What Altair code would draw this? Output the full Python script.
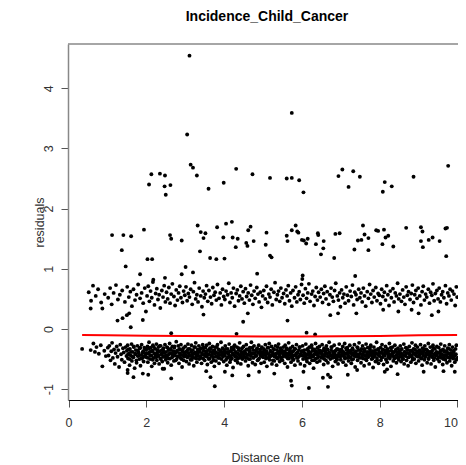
import altair as alt
import pandas as pd

# ---------------- data ----------------
# isolated high residuals (> ~0.8)
high_pts = [
    (3.11, 4.54), (3.05, 3.23), (3.14, 2.73), (3.20, 2.68), (3.30, 2.55), (2.13, 2.57),
    (2.35, 2.58), (2.48, 2.55), (2.07, 2.40), (2.47, 2.37), (2.62, 2.39), (2.50, 2.23),
    (3.60, 2.33), (3.99, 2.43), (4.31, 2.66), (4.73, 2.57), (5.18, 2.51), (5.74, 3.59),
    (5.61, 2.50), (5.74, 2.51), (5.93, 2.47), (6.04, 2.27), (6.94, 2.54), (7.04, 2.65),
    (7.32, 2.62), (7.49, 2.53), (7.20, 2.36), (8.13, 2.44), (8.31, 2.37), (8.08, 2.28),
    (8.87, 2.53), (9.76, 2.71),
    (1.12, 1.56), (1.41, 1.56), (1.61, 1.54), (1.94, 1.65), (2.61, 1.56), (2.64, 1.50),
    (2.91, 1.47), (3.32, 1.72), (3.40, 1.61), (1.37, 1.31), (3.38, 1.29), (2.03, 1.16),
    (2.15, 1.16), (1.47, 1.04), (3.01, 1.03), (3.47, 1.51), (3.52, 1.59), (3.82, 1.69),
    (4.05, 1.75), (4.20, 1.78), (3.98, 1.52), (4.22, 1.52), (4.35, 1.50), (4.30, 1.36),
    (3.64, 1.18), (3.80, 1.16), (4.01, 1.17), (4.62, 1.64), (4.68, 1.70), (4.57, 1.43),
    (4.60, 1.38), (4.76, 1.46), (5.09, 1.60), (5.07, 1.40), (5.18, 1.22), (5.22, 1.19),
    (5.61, 1.55), (5.74, 1.64), (5.84, 1.72), (5.88, 1.62), (5.91, 1.60), (5.63, 1.46),
    (6.00, 1.48), (6.05, 1.47), (6.15, 1.50), (6.11, 1.42), (6.41, 1.59), (6.42, 1.56),
    (6.36, 1.41), (6.56, 1.46), (6.55, 1.34), (6.49, 1.24), (6.86, 1.58), (6.97, 1.59),
    (6.83, 1.18), (7.57, 1.72), (7.61, 1.57), (7.71, 1.51), (7.44, 1.47), (7.53, 1.48),
    (7.35, 1.32), (7.71, 1.31), (7.91, 1.64), (7.96, 1.63), (8.11, 1.65), (8.22, 1.55),
    (8.15, 1.52), (8.07, 1.41), (8.35, 1.37), (8.68, 1.68), (9.06, 1.69), (9.10, 1.62),
    (9.06, 1.46), (9.11, 1.36), (9.26, 1.48), (9.36, 1.52), (9.54, 1.46), (9.69, 1.67),
    (9.73, 1.68), (9.71, 1.21),
    (1.84, 0.91), (2.91, 0.91), (3.20, 0.94), (2.48, 0.85), (2.18, 0.82), (4.85, 0.92),
    (6.02, 0.89), (6.01, 0.83), (7.37, 0.88),
]

# scattered points between and below the two bands
sparse_pts = [
    (0.57, 0.34), (0.87, 0.34), (1.26, 0.14), (1.39, 0.18), (1.50, 0.23), (1.56, 0.26),
    (1.91, 0.15), (1.99, 0.29), (1.60, 0.03), (2.64, -0.07), (3.47, 0.24), (4.49, 0.12),
    (4.61, 0.26), (5.63, 0.14), (4.32, -0.08), (6.12, -0.06), (6.34, -0.09),
    (6.73, 0.23), (6.93, 0.26), (7.40, 0.26), (8.09, 0.32), (8.48, 0.29), (8.82, 0.32),
    (9.00, 0.26), (9.34, 0.23), (9.51, 0.29),
    (0.35, -0.33), (0.57, -0.35), (0.64, -0.24), (0.87, -0.62), (0.72, -0.30), (0.78, -0.41),
    (0.83, -0.27), (0.92, -0.36), (0.96, -0.45), (0.68, -0.38),
    (1.52, -0.68), (1.52, -0.73), (1.67, -0.80), (1.91, -0.74), (2.05, -0.76), (2.64, -0.82),
    (2.42, -0.66), (3.76, -0.95), (5.72, -0.86), (5.74, -0.94), (6.18, -0.98), (3.65, -0.80),
    (3.54, -0.70), (4.63, -0.77), (5.29, -0.74), (6.54, -0.81), (6.67, -0.76), (4.02, -0.71),
    (4.21, -0.77), (4.90, -0.71), (6.04, -0.71), (6.67, -0.96), (7.18, -0.76), (7.42, -0.68),
    (8.13, -0.71), (8.19, -0.67), (8.46, -0.75), (9.13, -0.71), (9.64, -0.70), (9.93, -0.71),
    (6.73, -0.80),
]

# dense band of residuals around +0.55
upper_band = [
    (0.52, 0.61), (0.58, 0.47), (0.63, 0.72), (0.70, 0.55), (0.76, 0.66), (0.84, 0.44), (0.93, 0.58),
    (1.02, 0.52), (1.07, 0.68), (1.11, 0.41), (1.16, 0.60), (1.22, 0.73), (1.27, 0.49), (1.32, 0.57),
    (1.38, 0.64), (1.45, 0.45),
    (1.51, 0.70), (1.55, 0.53), (1.59, 0.62), (1.63, 0.38), (1.67, 0.66), (1.71, 0.48), (1.75, 0.57),
    (1.79, 0.74), (1.84, 0.51), (1.88, 0.60), (1.92, 0.43), (1.96, 0.68),
    (2.02, 0.55), (2.05, 0.71), (2.08, 0.46), (2.11, 0.63), (2.14, 0.52), (2.17, 0.78), (2.21, 0.40),
    (2.24, 0.59), (2.27, 0.67), (2.30, 0.49), (2.33, 0.57), (2.36, 0.35), (2.40, 0.64), (2.43, 0.53),
    (2.46, 0.72), (2.49, 0.45),
    (2.52, 0.61), (2.55, 0.50), (2.58, 0.69), (2.61, 0.43), (2.64, 0.58), (2.67, 0.75), (2.71, 0.54),
    (2.74, 0.39), (2.77, 0.65), (2.80, 0.48), (2.83, 0.60), (2.86, 0.71), (2.89, 0.52), (2.93, 0.44),
    (2.96, 0.63), (2.99, 0.56),
    (3.02, 0.70), (3.05, 0.47), (3.08, 0.59), (3.11, 0.53), (3.14, 0.66), (3.18, 0.41), (3.21, 0.62),
    (3.24, 0.77), (3.27, 0.50), (3.30, 0.57), (3.33, 0.45), (3.36, 0.68), (3.40, 0.55), (3.43, 0.37),
    (3.46, 0.63), (3.49, 0.52),
    (3.52, 0.58), (3.55, 0.72), (3.58, 0.46), (3.61, 0.64), (3.65, 0.53), (3.68, 0.42), (3.71, 0.69),
    (3.74, 0.56), (3.77, 0.61), (3.80, 0.48), (3.83, 0.74), (3.87, 0.51), (3.90, 0.60), (3.93, 0.40),
    (3.96, 0.66), (3.99, 0.54),
    (4.02, 0.49), (4.05, 0.63), (4.09, 0.57), (4.12, 0.76), (4.15, 0.44), (4.18, 0.60), (4.21, 0.52),
    (4.24, 0.68), (4.27, 0.38), (4.31, 0.59), (4.34, 0.65), (4.37, 0.47), (4.40, 0.55), (4.43, 0.71),
    (4.46, 0.50), (4.49, 0.62),
    (4.52, 0.43), (4.55, 0.67), (4.58, 0.54), (4.62, 0.60), (4.65, 0.48), (4.68, 0.73), (4.71, 0.56),
    (4.74, 0.41), (4.77, 0.63), (4.80, 0.51), (4.84, 0.69), (4.87, 0.58), (4.90, 0.45), (4.93, 0.61),
    (4.96, 0.36), (4.99, 0.55),
    (5.02, 0.64), (5.06, 0.50), (5.09, 0.71), (5.12, 0.44), (5.15, 0.58), (5.18, 0.53), (5.21, 0.66),
    (5.24, 0.40), (5.28, 0.61), (5.31, 0.77), (5.34, 0.49), (5.37, 0.57), (5.40, 0.63), (5.43, 0.46),
    (5.46, 0.68), (5.49, 0.52),
    (5.53, 0.59), (5.56, 0.42), (5.59, 0.65), (5.62, 0.55), (5.65, 0.72), (5.68, 0.47), (5.71, 0.60),
    (5.74, 0.38), (5.77, 0.64), (5.81, 0.52), (5.84, 0.70), (5.87, 0.45), (5.90, 0.57), (5.93, 0.62),
    (5.96, 0.49), (5.99, 0.74),
    (6.03, 0.56), (6.06, 0.43), (6.09, 0.67), (6.12, 0.51), (6.15, 0.60), (6.18, 0.75), (6.21, 0.46),
    (6.25, 0.58), (6.28, 0.63), (6.31, 0.39), (6.34, 0.54), (6.37, 0.69), (6.40, 0.48), (6.43, 0.61),
    (6.47, 0.53), (6.50, 0.66),
    (6.53, 0.44), (6.56, 0.59), (6.59, 0.71), (6.62, 0.50), (6.65, 0.62), (6.69, 0.41), (6.72, 0.57),
    (6.75, 0.68), (6.78, 0.53), (6.81, 0.46), (6.84, 0.64), (6.87, 0.76), (6.91, 0.55), (6.94, 0.48),
    (6.97, 0.60), (6.99, 0.37),
    (7.02, 0.65), (7.05, 0.52), (7.08, 0.58), (7.11, 0.43), (7.14, 0.70), (7.17, 0.56), (7.20, 0.47),
    (7.24, 0.63), (7.27, 0.54), (7.30, 0.73), (7.33, 0.40), (7.36, 0.61), (7.39, 0.57), (7.42, 0.49),
    (7.46, 0.66), (7.49, 0.52),
    (7.52, 0.60), (7.55, 0.45), (7.58, 0.68), (7.61, 0.55), (7.64, 0.38), (7.68, 0.62), (7.71, 0.51),
    (7.74, 0.74), (7.77, 0.58), (7.80, 0.44), (7.83, 0.64), (7.86, 0.53), (7.90, 0.69), (7.93, 0.47),
    (7.96, 0.59), (7.99, 0.56),
    (8.02, 0.42), (8.05, 0.66), (8.08, 0.54), (8.12, 0.61), (8.15, 0.48), (8.18, 0.72), (8.21, 0.57),
    (8.24, 0.39), (8.27, 0.63), (8.30, 0.52), (8.34, 0.67), (8.37, 0.45), (8.40, 0.60), (8.43, 0.55),
    (8.46, 0.76), (8.49, 0.50),
    (8.52, 0.58), (8.56, 0.46), (8.59, 0.65), (8.62, 0.53), (8.65, 0.41), (8.68, 0.70), (8.71, 0.56),
    (8.74, 0.62), (8.78, 0.49), (8.81, 0.59), (8.84, 0.73), (8.87, 0.44), (8.90, 0.57), (8.93, 0.64),
    (8.96, 0.51), (8.99, 0.68),
    (9.03, 0.55), (9.06, 0.40), (9.09, 0.62), (9.12, 0.71), (9.15, 0.48), (9.18, 0.58), (9.21, 0.53),
    (9.25, 0.66), (9.28, 0.43), (9.31, 0.61), (9.34, 0.56), (9.37, 0.75), (9.40, 0.47), (9.43, 0.59),
    (9.47, 0.64), (9.50, 0.50),
    (9.53, 0.68), (9.56, 0.45), (9.59, 0.57), (9.62, 0.62), (9.65, 0.52), (9.69, 0.72), (9.72, 0.42),
    (9.75, 0.60), (9.78, 0.55), (9.81, 0.66), (9.84, 0.48), (9.87, 0.63), (9.91, 0.58), (9.94, 0.39),
    (9.97, 0.70), (9.99, 0.53),
]

# dense band of residuals around -0.4
lower_band = [
    (1.01, -0.31), (1.03, -0.44), (1.05, -0.28), (1.08, -0.52), (1.10, -0.37), (1.12, -0.23), (1.14, -0.48),
    (1.17, -0.34), (1.19, -0.58), (1.21, -0.40), (1.24, -0.29), (1.26, -0.46), (1.28, -0.35), (1.30, -0.63),
    (1.33, -0.26), (1.35, -0.42), (1.37, -0.51), (1.40, -0.32), (1.42, -0.39), (1.44, -0.55), (1.47, -0.30),
    (1.49, -0.45),
    (1.50, -0.36), (1.52, -0.27), (1.53, -0.49), (1.55, -0.41), (1.57, -0.60), (1.58, -0.33), (1.60, -0.44),
    (1.62, -0.25), (1.63, -0.53), (1.65, -0.38), (1.67, -0.47), (1.68, -0.30), (1.70, -0.65), (1.72, -0.42),
    (1.73, -0.35), (1.75, -0.56), (1.77, -0.28), (1.78, -0.45), (1.80, -0.39), (1.82, -0.50), (1.83, -0.32),
    (1.85, -0.61), (1.87, -0.43), (1.88, -0.26), (1.90, -0.48), (1.92, -0.37), (1.93, -0.54), (1.95, -0.31),
    (1.97, -0.46), (1.99, -0.40),
    (2.00, -0.34), (2.01, -0.47), (2.03, -0.29), (2.04, -0.55), (2.06, -0.41), (2.07, -0.22), (2.08, -0.38),
    (2.10, -0.50), (2.11, -0.31), (2.13, -0.44), (2.14, -0.62), (2.16, -0.36), (2.17, -0.27), (2.18, -0.48),
    (2.20, -0.40), (2.21, -0.57), (2.23, -0.33), (2.24, -0.45), (2.26, -0.25), (2.27, -0.52), (2.28, -0.39),
    (2.30, -0.43), (2.31, -0.30), (2.33, -0.58), (2.34, -0.37), (2.36, -0.49), (2.37, -0.28), (2.38, -0.42),
    (2.40, -0.35), (2.41, -0.54), (2.43, -0.46), (2.44, -0.32), (2.46, -0.66), (2.47, -0.40), (2.48, -0.26),
    (2.50, -0.51),
    (2.51, -0.38), (2.53, -0.30), (2.54, -0.47), (2.55, -0.56), (2.57, -0.35), (2.58, -0.42), (2.60, -0.24),
    (2.61, -0.49), (2.62, -0.33), (2.64, -0.60), (2.65, -0.41), (2.67, -0.29), (2.68, -0.45), (2.70, -0.37),
    (2.71, -0.53), (2.72, -0.31), (2.74, -0.44), (2.75, -0.39), (2.77, -0.21), (2.78, -0.50), (2.79, -0.36),
    (2.81, -0.46), (2.82, -0.28), (2.84, -0.57), (2.85, -0.40), (2.87, -0.34), (2.88, -0.48), (2.89, -0.26),
    (2.91, -0.43), (2.92, -0.63), (2.94, -0.38), (2.95, -0.32), (2.96, -0.52), (2.98, -0.41), (2.99, -0.45),
    (3.00, -0.29), (3.02, -0.43), (3.03, -0.54), (3.05, -0.36), (3.06, -0.47), (3.07, -0.25), (3.09, -0.40),
    (3.10, -0.58), (3.12, -0.33), (3.13, -0.45), (3.15, -0.38), (3.16, -0.27), (3.17, -0.51), (3.19, -0.42),
    (3.20, -0.35), (3.22, -0.61), (3.23, -0.30), (3.25, -0.48), (3.26, -0.39), (3.27, -0.23), (3.29, -0.44),
    (3.30, -0.55), (3.32, -0.34), (3.33, -0.41), (3.35, -0.28), (3.36, -0.50), (3.37, -0.37), (3.39, -0.46),
    (3.40, -0.32), (3.42, -0.57), (3.43, -0.40), (3.45, -0.26), (3.46, -0.49), (3.47, -0.36), (3.49, -0.43),
    (3.50, -0.52), (3.52, -0.31), (3.53, -0.40), (3.55, -0.27), (3.56, -0.46), (3.57, -0.59), (3.59, -0.35),
    (3.60, -0.42), (3.62, -0.24), (3.63, -0.49), (3.65, -0.38), (3.66, -0.33), (3.67, -0.55), (3.69, -0.44),
    (3.70, -0.29), (3.72, -0.47), (3.73, -0.36), (3.75, -0.62), (3.76, -0.41), (3.77, -0.30), (3.79, -0.53),
    (3.80, -0.39), (3.82, -0.45), (3.83, -0.26), (3.85, -0.48), (3.86, -0.34), (3.87, -0.57), (3.89, -0.43),
    (3.90, -0.37), (3.92, -0.22), (3.93, -0.50), (3.95, -0.40), (3.96, -0.32), (3.97, -0.46), (3.99, -0.54),
    (4.00, -0.36), (4.02, -0.44), (4.03, -0.28), (4.05, -0.51), (4.06, -0.39), (4.07, -0.60), (4.09, -0.33),
    (4.10, -0.47), (4.12, -0.42), (4.13, -0.25), (4.15, -0.55), (4.16, -0.37), (4.17, -0.45), (4.19, -0.31),
    (4.20, -0.49), (4.22, -0.40), (4.23, -0.64), (4.25, -0.34), (4.26, -0.43), (4.27, -0.27), (4.29, -0.52),
    (4.30, -0.38), (4.32, -0.46), (4.33, -0.30), (4.35, -0.56), (4.36, -0.41), (4.37, -0.35), (4.39, -0.48),
    (4.40, -0.23), (4.42, -0.44), (4.43, -0.58), (4.45, -0.39), (4.46, -0.32), (4.47, -0.50), (4.49, -0.42),
    (4.50, -0.29), (4.52, -0.46), (4.53, -0.37), (4.55, -0.53), (4.56, -0.41), (4.57, -0.26), (4.59, -0.48),
    (4.60, -0.34), (4.62, -0.61), (4.63, -0.43), (4.65, -0.38), (4.66, -0.31), (4.67, -0.50), (4.69, -0.45),
    (4.70, -0.22), (4.72, -0.40), (4.73, -0.56), (4.75, -0.35), (4.76, -0.47), (4.77, -0.28), (4.79, -0.42),
    (4.80, -0.59), (4.82, -0.36), (4.83, -0.44), (4.85, -0.32), (4.86, -0.52), (4.87, -0.39), (4.89, -0.27),
    (4.90, -0.49), (4.92, -0.41), (4.93, -0.34), (4.95, -0.57), (4.96, -0.45), (4.97, -0.30), (4.99, -0.38),
    (5.00, -0.47), (5.02, -0.33), (5.03, -0.55), (5.05, -0.40), (5.06, -0.26), (5.07, -0.44), (5.09, -0.37),
    (5.10, -0.62), (5.12, -0.31), (5.13, -0.48), (5.15, -0.42), (5.16, -0.24), (5.17, -0.51), (5.19, -0.36),
    (5.20, -0.45), (5.22, -0.29), (5.23, -0.58), (5.25, -0.39), (5.26, -0.43), (5.27, -0.33), (5.29, -0.53),
    (5.30, -0.46), (5.32, -0.28), (5.33, -0.41), (5.35, -0.60), (5.36, -0.35), (5.37, -0.49), (5.39, -0.38),
    (5.40, -0.25), (5.42, -0.44), (5.43, -0.54), (5.45, -0.32), (5.46, -0.47), (5.47, -0.40), (5.49, -0.36),
    (5.50, -0.52), (5.52, -0.30), (5.53, -0.43), (5.55, -0.37), (5.56, -0.57), (5.57, -0.27), (5.59, -0.46),
    (5.60, -0.40), (5.62, -0.34), (5.63, -0.63), (5.65, -0.44), (5.66, -0.23), (5.67, -0.49), (5.69, -0.38),
    (5.70, -0.32), (5.72, -0.55), (5.73, -0.42), (5.75, -0.47), (5.76, -0.29), (5.77, -0.51), (5.79, -0.36),
    (5.80, -0.44), (5.82, -0.60), (5.83, -0.33), (5.85, -0.41), (5.86, -0.26), (5.87, -0.48), (5.89, -0.39),
    (5.90, -0.53), (5.92, -0.35), (5.93, -0.45), (5.95, -0.30), (5.96, -0.58), (5.97, -0.42), (5.99, -0.37),
    (6.00, -0.44), (6.02, -0.28), (6.03, -0.50), (6.05, -0.39), (6.06, -0.35), (6.07, -0.61), (6.09, -0.46),
    (6.10, -0.25), (6.12, -0.42), (6.13, -0.54), (6.15, -0.33), (6.16, -0.48), (6.17, -0.37), (6.19, -0.30),
    (6.20, -0.57), (6.22, -0.43), (6.23, -0.40), (6.25, -0.27), (6.26, -0.52), (6.27, -0.36), (6.29, -0.46),
    (6.30, -0.65), (6.32, -0.34), (6.33, -0.41), (6.35, -0.24), (6.36, -0.49), (6.37, -0.38), (6.39, -0.55),
    (6.40, -0.31), (6.42, -0.45), (6.43, -0.40), (6.45, -0.29), (6.46, -0.53), (6.47, -0.36), (6.49, -0.47),
    (6.50, -0.39), (6.52, -0.26), (6.53, -0.48), (6.55, -0.43), (6.56, -0.59), (6.57, -0.32), (6.59, -0.45),
    (6.60, -0.37), (6.62, -0.52), (6.63, -0.28), (6.65, -0.41), (6.66, -0.34), (6.67, -0.56), (6.69, -0.46),
    (6.70, -0.22), (6.72, -0.40), (6.73, -0.50), (6.75, -0.35), (6.76, -0.44), (6.77, -0.30), (6.79, -0.62),
    (6.80, -0.38), (6.82, -0.47), (6.83, -0.27), (6.85, -0.42), (6.86, -0.54), (6.87, -0.36), (6.89, -0.49),
    (6.90, -0.33), (6.92, -0.44), (6.93, -0.58), (6.95, -0.40), (6.96, -0.25), (6.97, -0.46), (6.99, -0.37),
    (7.00, -0.51), (7.02, -0.34), (7.03, -0.42), (7.05, -0.29), (7.06, -0.55), (7.07, -0.38), (7.09, -0.46),
    (7.10, -0.24), (7.12, -0.41), (7.13, -0.60), (7.15, -0.35), (7.16, -0.48), (7.17, -0.31), (7.19, -0.44),
    (7.20, -0.53), (7.22, -0.39), (7.23, -0.27), (7.25, -0.47), (7.26, -0.36), (7.27, -0.57), (7.29, -0.43),
    (7.30, -0.32), (7.32, -0.50), (7.33, -0.40), (7.35, -0.26), (7.36, -0.45), (7.37, -0.63), (7.39, -0.37),
    (7.40, -0.42), (7.42, -0.30), (7.43, -0.52), (7.45, -0.46), (7.46, -0.35), (7.47, -0.23), (7.49, -0.48),
    (7.50, -0.41), (7.52, -0.56), (7.53, -0.33), (7.55, -0.44), (7.56, -0.28), (7.57, -0.49), (7.59, -0.38),
    (7.60, -0.61), (7.62, -0.36), (7.63, -0.45), (7.65, -0.25), (7.66, -0.52), (7.67, -0.40), (7.69, -0.31),
    (7.70, -0.47), (7.72, -0.43), (7.73, -0.58), (7.75, -0.34), (7.76, -0.39), (7.77, -0.27), (7.79, -0.50),
    (7.80, -0.44), (7.82, -0.37), (7.83, -0.64), (7.85, -0.30), (7.86, -0.46), (7.87, -0.41), (7.89, -0.54),
    (7.90, -0.35), (7.92, -0.22), (7.93, -0.48), (7.95, -0.42), (7.96, -0.33), (7.97, -0.57), (7.99, -0.39),
    (8.00, -0.45), (8.02, -0.31), (8.03, -0.52), (8.05, -0.38), (8.06, -0.26), (8.07, -0.47), (8.09, -0.42),
    (8.10, -0.59), (8.12, -0.35), (8.13, -0.44), (8.15, -0.29), (8.16, -0.50), (8.17, -0.40), (8.19, -0.55),
    (8.20, -0.33), (8.22, -0.46), (8.23, -0.37), (8.25, -0.24), (8.26, -0.49), (8.27, -0.43), (8.29, -0.62),
    (8.30, -0.36), (8.32, -0.41), (8.33, -0.30), (8.35, -0.53), (8.36, -0.45), (8.37, -0.38), (8.39, -0.27),
    (8.40, -0.48), (8.42, -0.34), (8.43, -0.56), (8.45, -0.42), (8.46, -0.39), (8.47, -0.32), (8.49, -0.51),
    (8.50, -0.37), (8.52, -0.46), (8.53, -0.28), (8.55, -0.54), (8.56, -0.41), (8.57, -0.33), (8.59, -0.49),
    (8.60, -0.43), (8.62, -0.25), (8.63, -0.58), (8.65, -0.38), (8.66, -0.45), (8.67, -0.31), (8.69, -0.52),
    (8.70, -0.40), (8.72, -0.35), (8.73, -0.61), (8.75, -0.47), (8.76, -0.29), (8.77, -0.42), (8.79, -0.36),
    (8.80, -0.55), (8.82, -0.44), (8.83, -0.23), (8.85, -0.48), (8.86, -0.39), (8.87, -0.33), (8.89, -0.50),
    (8.90, -0.41), (8.92, -0.27), (8.93, -0.57), (8.95, -0.45), (8.96, -0.37), (8.97, -0.30), (8.99, -0.46),
    (9.00, -0.53), (9.02, -0.35), (9.03, -0.42), (9.05, -0.26), (9.06, -0.48), (9.07, -0.39), (9.09, -0.60),
    (9.10, -0.32), (9.12, -0.44), (9.13, -0.37), (9.15, -0.51), (9.16, -0.28), (9.17, -0.46), (9.19, -0.41),
    (9.20, -0.34), (9.22, -0.56), (9.23, -0.43), (9.25, -0.24), (9.26, -0.49), (9.27, -0.38), (9.29, -0.45),
    (9.30, -0.30), (9.32, -0.58), (9.33, -0.40), (9.35, -0.36), (9.36, -0.47), (9.37, -0.27), (9.39, -0.52),
    (9.40, -0.42), (9.42, -0.33), (9.43, -0.63), (9.45, -0.44), (9.46, -0.38), (9.47, -0.29), (9.49, -0.50),
    (9.50, -0.40), (9.52, -0.31), (9.53, -0.54), (9.55, -0.45), (9.56, -0.36), (9.57, -0.25), (9.59, -0.48),
    (9.60, -0.42), (9.62, -0.59), (9.63, -0.34), (9.65, -0.46), (9.66, -0.38), (9.67, -0.28), (9.69, -0.51),
    (9.70, -0.43), (9.72, -0.37), (9.73, -0.56), (9.75, -0.32), (9.76, -0.47), (9.77, -0.40), (9.79, -0.26),
    (9.80, -0.53), (9.82, -0.44), (9.83, -0.35), (9.85, -0.61), (9.86, -0.41), (9.87, -0.30), (9.89, -0.49),
    (9.90, -0.38), (9.92, -0.45), (9.93, -0.55), (9.95, -0.33), (9.96, -0.42), (9.97, -0.27), (9.99, -0.48),
]

# extra points in the dark core of the lower band
lower_core = [
    (1.515, -0.43), (1.545, -0.34), (1.575, -0.50), (1.605, -0.38), (1.645, -0.46), (1.675, -0.29),
    (1.715, -0.41), (1.745, -0.52), (1.785, -0.36), (1.815, -0.44), (1.845, -0.31), (1.875, -0.49),
    (1.905, -0.39), (1.935, -0.45), (1.965, -0.33), (1.985, -0.42),
    (2.015, -0.40), (2.045, -0.48), (2.075, -0.32), (2.105, -0.44), (2.135, -0.37), (2.165, -0.51),
    (2.195, -0.30), (2.225, -0.42), (2.255, -0.47), (2.285, -0.35), (2.315, -0.45), (2.345, -0.28),
    (2.375, -0.50), (2.405, -0.41), (2.435, -0.36), (2.465, -0.46),
    (2.515, -0.44), (2.545, -0.31), (2.575, -0.49), (2.605, -0.40), (2.635, -0.35), (2.665, -0.47),
    (2.695, -0.42), (2.725, -0.29), (2.755, -0.52), (2.785, -0.38), (2.815, -0.45), (2.845, -0.33),
    (2.875, -0.43), (2.905, -0.50), (2.935, -0.37), (2.965, -0.46),
    (3.015, -0.38), (3.045, -0.46), (3.075, -0.33), (3.105, -0.43), (3.135, -0.51), (3.165, -0.36),
    (3.195, -0.47), (3.225, -0.41), (3.255, -0.30), (3.285, -0.49), (3.315, -0.39), (3.345, -0.45),
    (3.375, -0.34), (3.405, -0.48), (3.435, -0.42), (3.465, -0.31),
    (3.515, -0.45), (3.545, -0.37), (3.575, -0.42), (3.605, -0.50), (3.635, -0.32), (3.665, -0.44),
    (3.695, -0.39), (3.725, -0.52), (3.755, -0.35), (3.785, -0.46), (3.815, -0.30), (3.845, -0.41),
    (3.875, -0.48), (3.905, -0.36), (3.935, -0.43), (3.965, -0.39),
    (4.015, -0.41), (4.045, -0.33), (4.075, -0.48), (4.105, -0.38), (4.135, -0.45), (4.165, -0.51),
    (4.195, -0.35), (4.225, -0.43), (4.255, -0.29), (4.285, -0.46), (4.315, -0.40), (4.345, -0.50),
    (4.375, -0.32), (4.405, -0.44), (4.435, -0.37), (4.465, -0.47),
    (4.515, -0.39), (4.545, -0.47), (4.575, -0.34), (4.605, -0.43), (4.635, -0.50), (4.665, -0.36),
    (4.695, -0.42), (4.725, -0.31), (4.755, -0.48), (4.785, -0.40), (4.815, -0.45), (4.845, -0.33),
    (4.875, -0.51), (4.905, -0.38), (4.935, -0.44), (4.965, -0.41),
    (5.015, -0.42), (5.045, -0.35), (5.075, -0.49), (5.105, -0.40), (5.135, -0.31), (5.165, -0.46),
    (5.195, -0.38), (5.225, -0.44), (5.255, -0.52), (5.285, -0.34), (5.315, -0.43), (5.345, -0.47),
    (5.375, -0.30), (5.405, -0.41), (5.435, -0.37), (5.465, -0.50),
    (5.515, -0.46), (5.545, -0.39), (5.575, -0.43), (5.605, -0.32), (5.635, -0.49), (5.665, -0.41),
    (5.695, -0.36), (5.725, -0.45), (5.755, -0.38), (5.785, -0.51), (5.815, -0.33), (5.845, -0.44),
    (5.875, -0.40), (5.905, -0.47), (5.935, -0.30), (5.965, -0.42),
    (6.015, -0.37), (6.045, -0.45), (6.075, -0.41), (6.105, -0.50), (6.135, -0.34), (6.165, -0.43),
    (6.195, -0.39), (6.225, -0.47), (6.255, -0.31), (6.285, -0.44), (6.315, -0.52), (6.345, -0.36),
    (6.375, -0.42), (6.405, -0.48), (6.435, -0.35), (6.465, -0.40),
    (6.515, -0.43), (6.545, -0.36), (6.575, -0.50), (6.605, -0.41), (6.635, -0.33), (6.665, -0.46),
    (6.695, -0.39), (6.725, -0.44), (6.755, -0.30), (6.785, -0.48), (6.815, -0.42), (6.845, -0.37),
    (6.875, -0.45), (6.905, -0.51), (6.935, -0.34), (6.965, -0.43),
    (7.015, -0.45), (7.045, -0.38), (7.075, -0.43), (7.105, -0.49), (7.135, -0.32), (7.165, -0.41),
    (7.195, -0.36), (7.225, -0.47), (7.255, -0.40), (7.285, -0.51), (7.315, -0.35), (7.345, -0.44),
    (7.375, -0.39), (7.405, -0.46), (7.435, -0.31), (7.465, -0.42),
    (7.515, -0.36), (7.545, -0.47), (7.575, -0.42), (7.605, -0.33), (7.635, -0.50), (7.665, -0.44),
    (7.695, -0.38), (7.725, -0.45), (7.755, -0.30), (7.785, -0.41), (7.815, -0.49), (7.845, -0.37),
    (7.875, -0.43), (7.905, -0.40), (7.935, -0.52), (7.965, -0.35),
    (8.015, -0.40), (8.045, -0.48), (8.075, -0.34), (8.105, -0.44), (8.135, -0.39), (8.165, -0.51),
    (8.195, -0.37), (8.225, -0.42), (8.255, -0.46), (8.285, -0.31), (8.315, -0.45), (8.345, -0.40),
    (8.375, -0.49), (8.405, -0.36), (8.435, -0.43), (8.465, -0.47),
    (8.515, -0.42), (8.545, -0.35), (8.575, -0.45), (8.605, -0.50), (8.635, -0.38), (8.665, -0.43),
    (8.695, -0.32), (8.725, -0.47), (8.755, -0.40), (8.785, -0.45), (8.815, -0.36), (8.845, -0.51),
    (8.875, -0.41), (8.905, -0.34), (8.935, -0.44), (8.965, -0.39),
    (9.015, -0.44), (9.045, -0.37), (9.075, -0.49), (9.105, -0.41), (9.135, -0.33), (9.165, -0.46),
    (9.195, -0.40), (9.225, -0.36), (9.255, -0.50), (9.285, -0.42), (9.315, -0.38), (9.345, -0.45),
    (9.375, -0.31), (9.405, -0.48), (9.435, -0.40), (9.465, -0.43),
    (9.515, -0.47), (9.545, -0.39), (9.575, -0.42), (9.605, -0.35), (9.635, -0.50), (9.665, -0.44),
    (9.695, -0.37), (9.725, -0.46), (9.755, -0.41), (9.785, -0.33), (9.815, -0.48), (9.845, -0.40),
    (9.875, -0.45), (9.905, -0.36), (9.935, -0.43), (9.965, -0.51),
]

# red smooth line
smooth_x = [0.35, 1.0, 2.0, 3.0, 4.0, 5.0, 6.0, 7.0, 8.0, 9.0, 9.99]
smooth_y = [-0.10, -0.105, -0.11, -0.115, -0.12, -0.125, -0.125, -0.12, -0.115, -0.105, -0.10]

x_ticks = [0, 2, 4, 6, 8, 10]
y_ticks = [-1, 0, 1, 2, 3, 4]
title_text = ["Incidence_Child_Cancer"]

# ---------------- chart ----------------
pts = pd.DataFrame(high_pts + sparse_pts + upper_band + lower_band + lower_core, columns=["d", "r"])
line_df = pd.DataFrame({"d": smooth_x, "r": smooth_y})
title_df = pd.DataFrame({"t": title_text})

W, H = 390, 356
FONT = "Liberation Sans"

x_scale = alt.Scale(domain=[-0.013, 10.013], nice=False, zero=False)
y_scale = alt.Scale(domain=[-1.179, 4.734], nice=False, zero=False)

x_axis = alt.Axis(
    values=x_ticks, title="Distance /km", grid=False, tickSize=7, tickColor="#555",
    domainColor="black", domainWidth=1, labelFontSize=12.5, labelColor="#333",
    labelPadding=9, labelFlush=False, labelExpr="'' + datum.value",
    labelAlign={"condition": {"test": "datum.value == 10", "value": "right"}, "value": "center"},
    titleFontSize=12.5, titleFontWeight="normal", titleColor="#333",
    titleX=W / 2 + 4, titleY=57, titleBaseline="middle", titleAlign="center",
    labelFont=FONT, titleFont=FONT,
)
y_axis = alt.Axis(
    values=y_ticks, title="residuals", grid=False, tickSize=7, tickColor="#555",
    domainColor="#888", domainWidth=1.5, labelFontSize=12.5, labelColor="#333",
    labelAngle=270, labelAlign="center", labelBaseline="alphabetic", labelPadding=9,
    labelExpr="'' + datum.value",
    titleFontSize=12.5, titleFontWeight="normal", titleColor="#333",
    titleAngle=270, titleX=-29, titleY=H / 2, titleAlign="center", titleBaseline="middle",
    labelFont=FONT, titleFont=FONT,
)

points = alt.Chart(pts).mark_circle(size=15, color="black", opacity=1).encode(
    x=alt.X("d:Q", scale=x_scale, axis=x_axis),
    y=alt.Y("r:Q", scale=y_scale, axis=y_axis),
)

smooth = alt.Chart(line_df).mark_line(color="#ff0000", strokeWidth=2).encode(
    x=alt.X("d:Q", scale=x_scale, axis=x_axis),
    y=alt.Y("r:Q", scale=y_scale, axis=y_axis),
)

top_border = alt.Chart(title_df).mark_rule(color="#888", strokeWidth=1.5).encode(
    x=alt.value(0), x2=alt.value(W), y=alt.value(0)
)

title_mark = alt.Chart(title_df).mark_text(
    font=FONT, fontSize=14, fontWeight="bold", color="black",
    align="center", baseline="alphabetic",
).encode(
    x=alt.value(W / 2 + 4), y=alt.value(-23.2), text="t:N"
)

chart = alt.layer(points, smooth, top_border, title_mark).properties(
    width=W,
    height=H,
    autosize=alt.AutoSizeParams(type="none"),
    padding={"left": 60, "top": 36, "right": 0, "bottom": 65},
).configure_view(stroke=None)

chart.save("out.html", embed_options={"renderer": "svg", "actions": False})
